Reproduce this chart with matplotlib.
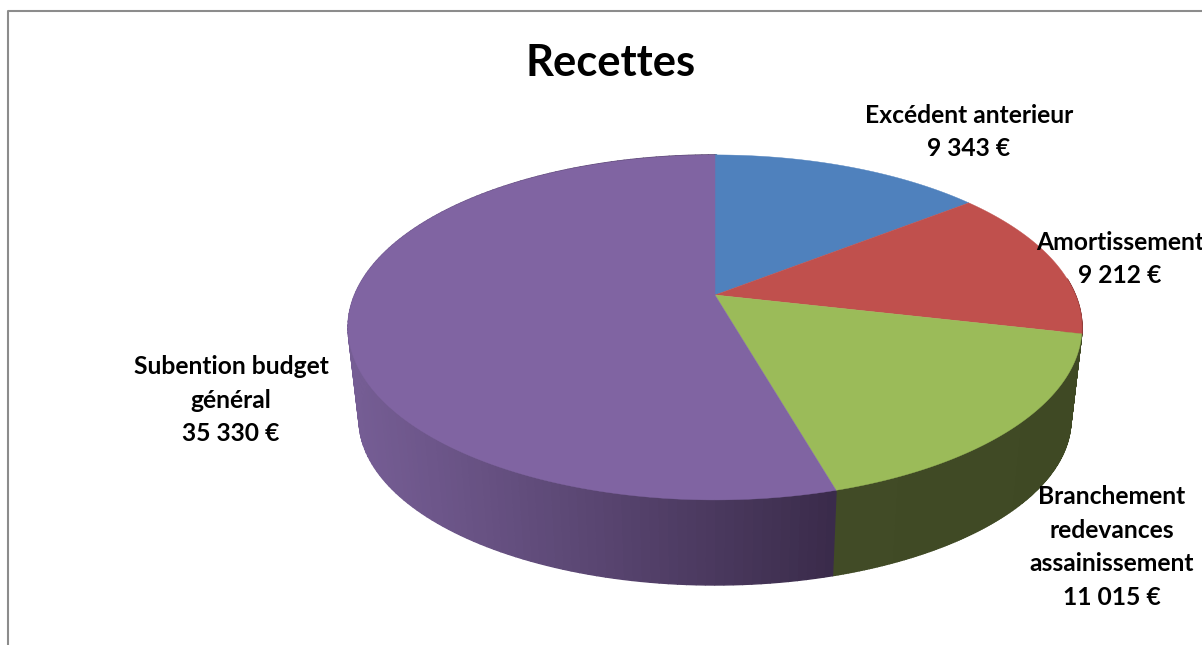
import numpy as np
import matplotlib
matplotlib.use('Agg')
import matplotlib.pyplot as plt
from matplotlib.colors import to_rgb

plt.rcParams['font.family'] = ['Lato', 'DejaVu Sans']

categories = ['Excédent anterieur', 'Amortissement',
              'Branchement\nredevances\nassainissement', 'Subention budget\ngénéral']
values = [9343, 9212, 11015, 35330]
value_labels = ['9 343 €', '9 212 €', '11 015 €', '35 330 €']
top_colors = ['#4f81bd', '#c0504d', '#9bbb59', '#8064a2']
side_light = ['#3a5f8c', '#8e3b39', '#414b26', '#755d94']
side_dark = ['#3a5f8c', '#8e3b39', '#3f4924', '#3a2b4a']
label_pos = [(969, 132), (1120, 259), (1112, 547), (231, 400)]

# pie geometry, pixels
cx, cy = 715, 295
a, b, k = 166.4, 360.4, 0.188
ell_cy = 327


def project(theta):
    # circle seen in perspective, theta clockwise from the top
    x = np.sin(theta)
    y = np.cos(theta)
    d = 1 + k * y
    return cx + b * x / d, cy - a * y / d


def lower_rim(px, py):
    # bottom edge is a bit smaller, it lies further from the eye
    return cx + 0.97 * (px - cx), ell_cy + 92 + 0.96 * (py - ell_cy)


fig = plt.figure(figsize=(12.02, 6.45), dpi=100)
ax = fig.add_axes([0, 0, 1, 1])
ax.set_xlim(0, 1202)
ax.set_ylim(645, 0)
ax.axis('off')

# frame of the chart area, only top and left show
ax.plot([7.5, 7.5, 1202], [645, 10.5, 10.5], color='#8c8c8c', lw=1.5)

edges = 2 * np.pi * np.cumsum([0] + values) / sum(values)

# side walls first
for i in range(len(values)):
    th = np.linspace(edges[i], edges[i + 1], 160)
    px, py = project(th)
    qx, qy = lower_rim(px, py)
    light = np.array(to_rgb(side_light[i]))
    dark = np.array(to_rgb(side_dark[i]))
    xmin, xmax = 350, 835
    for j in range(len(th) - 1):
        if np.cos((th[j] + th[j + 1]) / 2) > 0.1 and px[j] > cx:
            continue
        mid = (px[j] + px[j + 1]) / 2
        if i == 3:
            t = np.clip((mid - xmin) / (xmax - xmin), 0, 1) ** 1.1
        else:
            t = np.clip((mid - 835) / (1082 - 835), 0, 1)
        col = light + (dark - light) * t
        ax.fill([px[j], px[j + 1], qx[j + 1], qx[j]],
                [py[j], py[j + 1], qy[j + 1], qy[j]],
                color=col, lw=1.0)

# top faces
for i in range(len(values)):
    th = np.linspace(edges[i], edges[i + 1], 200)
    px, py = project(th)
    ax.fill(np.r_[cx, px], np.r_[cy, py], color=top_colors[i], lw=0.3)

ax.text(611, 63.5, 'Recettes', fontsize=31.3, fontweight='bold', ha='center', va='center', color='black')

for name, val, pos in zip(categories, value_labels, label_pos):
    ax.text(pos[0], pos[1], name + '\n' + val, fontsize=17.7, fontweight='bold',
            ha='center', va='center', color='black', linespacing=1.55, clip_on=True)

fig.savefig('out.png', dpi=100)
